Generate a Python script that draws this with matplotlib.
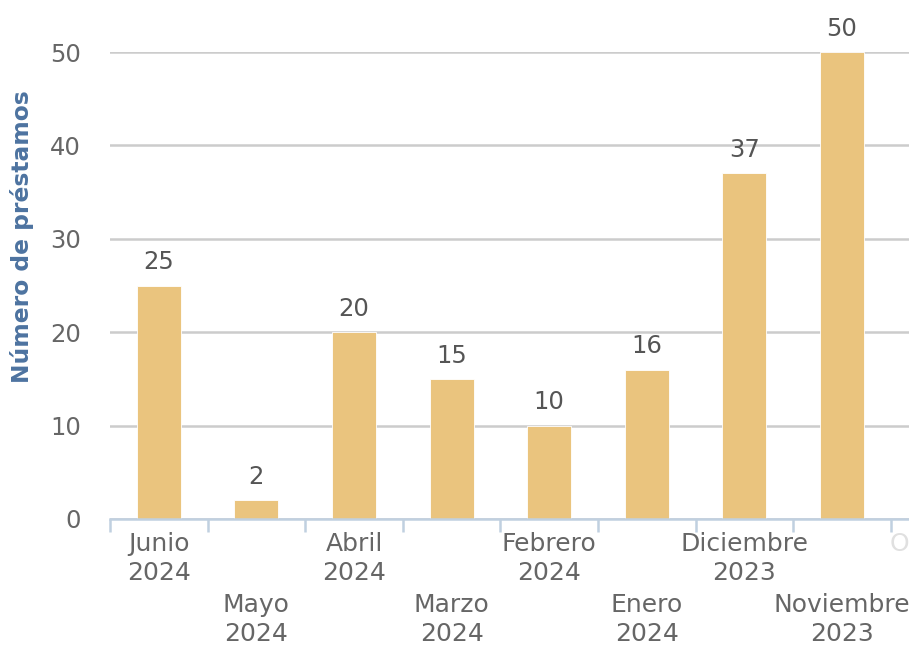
import matplotlib
matplotlib.use("Agg")
import matplotlib.pyplot as plt

categories = ["Junio\n2024", "Mayo\n2024", "Abril\n2024", "Marzo\n2024", "Febrero\n2024",
              "Enero\n2024", "Diciembre\n2023", "Noviembre\n2023", "Octubre\n2023"]
values = [25, 2, 20, 15, 10, 16, 37, 50]
yticks = [0, 10, 20, 30, 40, 50]

plt.rcParams['font.family'] = ['DejaVu Sans']

fig = plt.figure(figsize=(9.09, 6.48), dpi=100)
ax = fig.add_axes([110/909, (648-519)/648, 1 - 110/909, (519-52)/648])

bar_color = "#EAC47E"
xs = list(range(len(values)))
ax.bar(xs, values, width=0.45, color=bar_color, zorder=3, edgecolor="white", linewidth=0.6)
for x, v in zip(xs, values):
    ax.text(x, v + 1.2, str(v), ha="center", va="bottom", fontsize=17.5, color="#555555",
            clip_on=False, zorder=4)

ax.set_ylim(0, 50)
ax.set_xlim(-0.5, -0.5 + (909 - 110) / 97.6)
ax.set_yticks(yticks)
ax.set_yticklabels([str(t) for t in yticks], fontsize=17.5, color="#666666")
ax.yaxis.grid(True, color="#cccccc", linewidth=1.8, zorder=0)
ax.tick_params(axis="y", length=0, pad=21)

# category tick marks at boundaries
ax.set_xticks([i - 0.5 for i in range(len(categories))], minor=False)
ax.set_xticklabels([])
ax.tick_params(axis="x", which="major", length=9, width=1.8, color="#C0D0E0", direction="out")
# category labels, staggered
for i, lab in enumerate(categories):
    y_off = -0.028 if i % 2 == 0 else -0.159
    col = "#666666" if i < len(values) else "#e0e0e0"
    ax.text(i, y_off, lab, transform=ax.get_xaxis_transform(), ha="center", va="top",
            fontsize=18, color=col, linespacing=1.25, clip_on=False)

for s in ["top", "right", "left"]:
    ax.spines[s].set_visible(False)
ax.spines["bottom"].set_color("#C0D0E0")
ax.spines["bottom"].set_linewidth(1.8)
ax.spines["bottom"].set_zorder(5)

fig.text(22/909, 1 - 237/648, "Número de préstamos", rotation=90, ha="center", va="center",
         fontsize=16.8, fontweight="bold", color="#4D73A0")

fig.savefig("out.png", dpi=100)
